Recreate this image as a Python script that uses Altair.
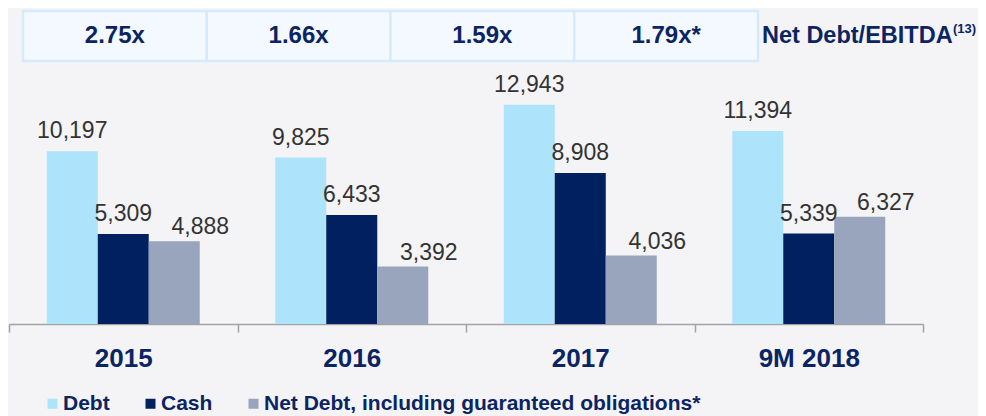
import altair as alt
import pandas as pd

periods = ["2015", "2016", "2017", "9M 2018"]
series = ["Debt", "Cash", "Net Debt, including guaranteed obligations*"]
debt = [10197, 9825, 12943, 11394]
cash = [5309, 6433, 8908, 5339]
net_debt = [4888, 3392, 4036, 6327]
ratios = ["2.75x", "1.66x", "1.59x", "1.79x*"]
ratio_title = "Net Debt/EBITDA"
ratio_note = "(13)"
colors = ["#ade3fb", "#002060", "#99a4bd"]

rows = []
for i, p in enumerate(periods):
    for s, vals in zip(series, [debt, cash, net_debt]):
        rows.append({"period": p, "series": s, "value": vals[i], "label": f"{vals[i]:,}"})
df = pd.DataFrame(rows)

NAVY = "#0b2463"
FONT = "Liberation Sans"
W, H = 914, 313

x_main = alt.X(
    "period:N", sort=periods,
    scale=alt.Scale(paddingInner=0, paddingOuter=0),
    axis=alt.Axis(title=None, labelFont=FONT, labelFontSize=26, labelFontWeight="bold",
                  labelColor=NAVY, labelAngle=0, labelPadding=13, tickBand="extent",
                  tickSize=8, tickWidth=1.5, tickColor="#a3a3a3", domainColor="#a3a3a3",
                  domainWidth=1.5, grid=False),
)
x_off = alt.XOffset("series:N", sort=series, scale=alt.Scale(paddingOuter=0.74, paddingInner=0))
y_enc = alt.Y("value:Q", scale=alt.Scale(domain=[0, 18470]), axis=None)

base = alt.Chart(df)

bars = base.mark_bar().encode(
    x=x_main, xOffset=x_off, y=y_enc,
    color=alt.Color("series:N", sort=series,
                    scale=alt.Scale(domain=series, range=colors),
                    legend=alt.Legend(title=None, orient="none", legendX=33, legendY=382,
                                      direction="horizontal", symbolType="square",
                                      symbolSize=100, symbolStrokeWidth=0, labelFont=FONT,
                                      labelFontSize=21, labelFontWeight="bold",
                                      labelColor=NAVY, labelOffset=0, columnPadding=30,
                                      padding=0, labelLimit=600)),
)

labels = base.mark_text(font=FONT, fontSize=23, color="#333333", baseline="alphabetic", dy=-13).encode(
    x=x_main, xOffset=x_off, y=y_enc, text="label:N"
).transform_filter(alt.FieldOneOfPredicate(field="series", oneOf=series[:2]))

labels_net = base.mark_text(font=FONT, fontSize=23, color="#333333", baseline="alphabetic", dy=-7, dx=26).encode(
    x=x_main, xOffset=x_off, y=y_enc, text="label:N"
).transform_filter(alt.FieldEqualPredicate(field="series", equal=series[2]))

main = alt.layer(bars, labels, labels_net)

dfb = pd.DataFrame({"ratio": ratios})
x_box = alt.X("ratio:N", sort=ratios,
              scale=alt.Scale(range=[14, 749], paddingInner=0, paddingOuter=0), axis=None)
box_rect = alt.Chart(dfb).mark_rect(fill="#f4f9ff", stroke="#d5ebfb", strokeWidth=2.5).encode(
    x=x_box, y=alt.value(0), y2=alt.value(50)
)
box_text = alt.Chart(dfb).mark_text(font=FONT, fontSize=24, fontWeight="bold", color=NAVY,
                                    baseline="middle").encode(
    x=x_box, y=alt.value(25), text="ratio:N"
)
boxes = alt.layer(box_rect, box_text)

title_df = pd.DataFrame({"t": [ratio_title], "n": [ratio_note]})
title_txt = alt.Chart(title_df).mark_text(font=FONT, fontSize=23.5, fontWeight="bold", color=NAVY,
                                          align="left", baseline="middle").encode(
    x=alt.value(753), y=alt.value(25), text="t:N"
)
note_txt = alt.Chart(title_df).mark_text(font=FONT, fontSize=13, fontWeight="bold", color=NAVY,
                                         align="left", baseline="middle").encode(
    x=alt.value(944), y=alt.value(18), text="n:N"
)

chart = alt.layer(main, boxes, title_txt, note_txt).resolve_scale(x="independent").properties(
    width=W, height=H,
    autosize=alt.AutoSizeParams(type="none"),
    padding={"left": 1, "top": 3, "right": 55, "bottom": 92},
    background="#f4f4f7",
).configure_view(stroke=None)

chart.save("out.html", embed_options={"renderer": "svg", "actions": False})
